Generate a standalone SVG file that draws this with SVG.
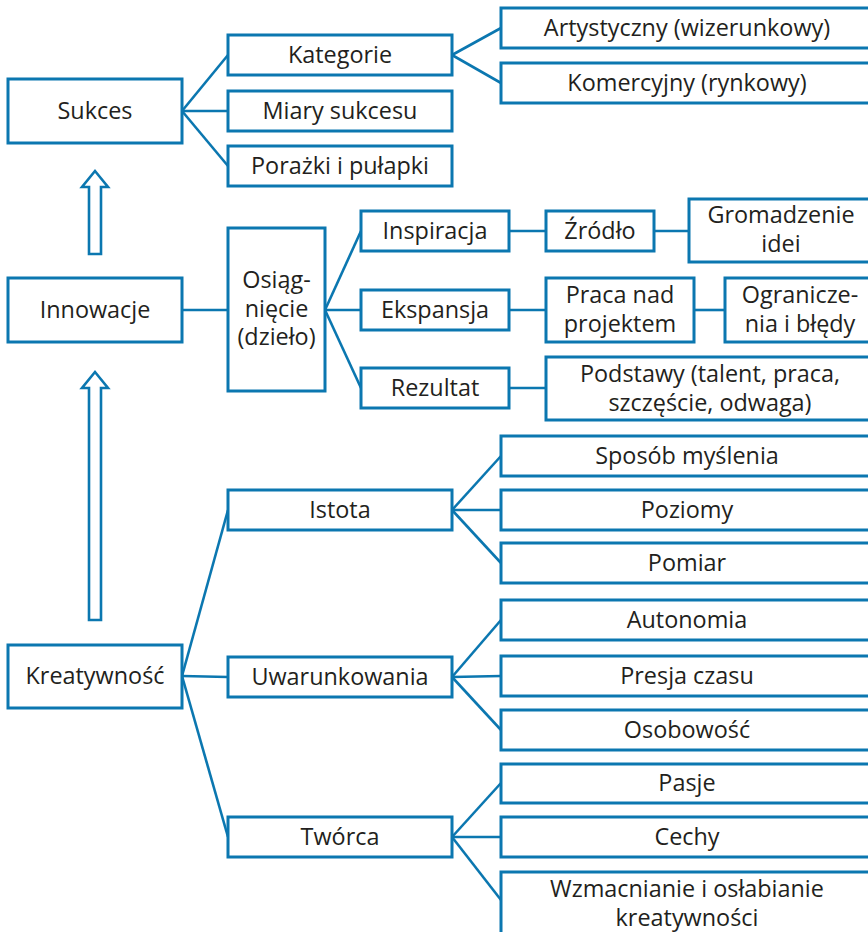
<svg xmlns="http://www.w3.org/2000/svg" width="868" height="932" viewBox="0 0 868 932">
<style>
rect.b{fill:#fff;stroke:#0b77b0;stroke-width:3}
text{font-family:"Open Sans","Noto Sans",sans-serif;font-size:23.4px;fill:#231f20;text-anchor:middle}
.c line{stroke:#0b77b0;stroke-width:2.6}
.arr{fill:#fff;stroke:#0b77b0;stroke-width:2.6;stroke-linejoin:miter}
</style>
<rect width="868" height="932" fill="#fff"/>
<g class="c" id="connectors">
<line x1="182" y1="111" x2="228" y2="55"/>
<line x1="182" y1="111" x2="228" y2="111"/>
<line x1="182" y1="111" x2="228" y2="166"/>
<line x1="452" y1="55" x2="501" y2="28"/>
<line x1="452" y1="55" x2="501" y2="83"/>
<line x1="182" y1="310" x2="228" y2="310"/>
<line x1="325" y1="310" x2="361" y2="231"/>
<line x1="325" y1="310" x2="361" y2="310"/>
<line x1="325" y1="310" x2="361" y2="388"/>
<line x1="509" y1="231" x2="546" y2="231"/>
<line x1="654" y1="231" x2="689" y2="231"/>
<line x1="509" y1="310" x2="546" y2="310"/>
<line x1="694" y1="310" x2="725" y2="310"/>
<line x1="509" y1="388" x2="546" y2="388"/>
<line x1="182" y1="676" x2="228" y2="510"/>
<line x1="182" y1="676" x2="228" y2="677"/>
<line x1="182" y1="676" x2="228" y2="837"/>
<line x1="452" y1="510" x2="501" y2="456"/>
<line x1="452" y1="510" x2="501" y2="510"/>
<line x1="452" y1="510" x2="501" y2="563"/>
<line x1="452" y1="677" x2="501" y2="620"/>
<line x1="452" y1="677" x2="501" y2="676"/>
<line x1="452" y1="677" x2="501" y2="730"/>
<line x1="452" y1="837" x2="501" y2="783"/>
<line x1="452" y1="837" x2="501" y2="837"/>
<line x1="452" y1="837" x2="501" y2="900"/>
<path class="arr" d="M95 171 L108 187 L101 187 L101 254 L89 254 L89 187 L82 187 Z"/>
<path class="arr" d="M95 372 L108 388 L101 388 L101 620 L89 620 L89 388 L82 388 Z"/>
</g>
<g id="sukces"><rect class="b" x="8" y="79" width="174" height="64"/><text x="95" y="119">Sukces</text></g>
<g id="kategorie"><rect class="b" x="228" y="35" width="224" height="40"/><text x="340" y="63">Kategorie</text></g>
<g id="miary"><rect class="b" x="228" y="91" width="224" height="40"/><text x="340" y="119">Miary sukcesu</text></g>
<g id="porazki"><rect class="b" x="228" y="146" width="224" height="40"/><text x="340" y="174">Porażki i pułapki</text></g>
<g id="artystyczny"><rect class="b" x="501" y="8" width="372" height="40"/><text x="687" y="36">Artystyczny (wizerunkowy)</text></g>
<g id="komercyjny"><rect class="b" x="501" y="63" width="372" height="40"/><text x="687" y="91">Komercyjny (rynkowy)</text></g>
<g id="innowacje"><rect class="b" x="8" y="278" width="174" height="64"/><text x="95" y="318">Innowacje</text></g>
<g id="osiagniecie"><rect class="b" x="228" y="228" width="97" height="163"/><text x="276.5" y="288">Osiąg-</text><text x="276.5" y="317">nięcie</text><text x="276.5" y="345">(dzieło)</text></g>
<g id="inspiracja"><rect class="b" x="361" y="211" width="148" height="40"/><text x="435" y="239">Inspiracja</text></g>
<g id="ekspansja"><rect class="b" x="361" y="290" width="148" height="40"/><text x="435" y="318">Ekspansja</text></g>
<g id="rezultat"><rect class="b" x="361" y="368" width="148" height="40"/><text x="435" y="396">Rezultat</text></g>
<g id="zrodlo"><rect class="b" x="546" y="211" width="108" height="40"/><text x="600" y="239">Źródło</text></g>
<g id="gromadzenie"><rect class="b" x="689" y="199" width="184" height="63"/><text x="781" y="223">Gromadzenie</text><text x="781" y="252">idei</text></g>
<g id="praca"><rect class="b" x="546" y="278" width="148" height="64"/><text x="620" y="303">Praca nad</text><text x="620" y="332">projektem</text></g>
<g id="ograniczenia"><rect class="b" x="725" y="278" width="148" height="64"/><text x="800" y="303">Ogranicze-</text><text x="800" y="332">nia i błędy</text></g>
<g id="podstawy"><rect class="b" x="546" y="357" width="327" height="63"/><text x="710" y="382">Podstawy (talent, praca,</text><text x="710" y="411">szczęście, odwaga)</text></g>
<g id="kreatywnosc"><rect class="b" x="8" y="645" width="174" height="63"/><text x="95" y="684">Kreatywność</text></g>
<g id="istota"><rect class="b" x="228" y="490" width="224" height="40"/><text x="340" y="518">Istota</text></g>
<g id="uwarunkowania"><rect class="b" x="228" y="657" width="224" height="40"/><text x="340" y="685">Uwarunkowania</text></g>
<g id="tworca"><rect class="b" x="228" y="817" width="224" height="40"/><text x="340" y="845">Twórca</text></g>
<g id="sposob"><rect class="b" x="501" y="436" width="372" height="40"/><text x="687" y="464">Sposób myślenia</text></g>
<g id="poziomy"><rect class="b" x="501" y="490" width="372" height="40"/><text x="687" y="518">Poziomy</text></g>
<g id="pomiar"><rect class="b" x="501" y="543" width="372" height="40"/><text x="687" y="571">Pomiar</text></g>
<g id="autonomia"><rect class="b" x="501" y="600" width="372" height="40"/><text x="687" y="628">Autonomia</text></g>
<g id="presja"><rect class="b" x="501" y="656" width="372" height="40"/><text x="687" y="684">Presja czasu</text></g>
<g id="osobowosc"><rect class="b" x="501" y="710" width="372" height="40"/><text x="687" y="738">Osobowość</text></g>
<g id="pasje"><rect class="b" x="501" y="764" width="372" height="39"/><text x="687" y="791">Pasje</text></g>
<g id="cechy"><rect class="b" x="501" y="817" width="372" height="40"/><text x="687" y="845">Cechy</text></g>
<g id="wzmacnianie"><rect class="b" x="501" y="872" width="372" height="70"/><text x="687" y="897">Wzmacnianie i osłabianie</text><text x="687" y="926">kreatywności</text></g>
</svg>
